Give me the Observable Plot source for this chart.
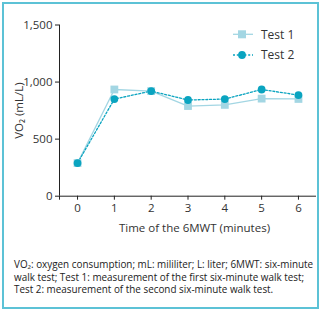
<!DOCTYPE html>
<html>
<head>
<meta charset="utf-8">
<script src="https://cdn.jsdelivr.net/npm/d3@7"></script>
<script src="https://cdn.jsdelivr.net/npm/@observablehq/plot@0.6"></script>
<style>
  html, body { margin: 0; padding: 0; background: #fff; }
  #wrap { position: relative; width: 322px; height: 309px; overflow: hidden; font-family: "Open Sans", sans-serif; color: #333; }
  #frame { position: absolute; left: 2px; top: 2px; width: 313px; height: 303px; border: 2px solid #5cc2d6; box-sizing: content-box; }
  #chart { position: absolute; left: 0; top: 0; }
  #legend { position: absolute; left: 228px; top: 24px; }
  #caption { position: absolute; left: 14px; top: 258px; font-size: 9.9px; line-height: 12.5px; white-space: nowrap; color: #222; }
  #caption div { height: 12.5px; }
</style>
</head>
<body>
<div id="wrap">
  <div id="frame"></div>
  <div id="chart"></div>
  <div id="legend"></div>
  <div id="caption"><div>VO₂: oxygen consumption; mL: mililiter; L: liter; 6MWT: six-minute</div><div>walk test; Test 1: measurement of the first six-minute walk test;</div><div>Test 2: measurement of the second six-minute walk test.</div></div>
</div>
<script>
const minutes = [0, 1, 2, 3, 4, 5, 6];
const test1 = [290, 935, 921, 790, 800, 855, 852];
const test2 = [290, 851, 921, 843, 851, 935, 886];
const seriesNames = ["Test 1", "Test 2"];
const yTicks = [0, 500, 1000, 1500];
const xLabel = "Time of the 6MWT (minutes)";
const yLabel = "VO₂ (mL/L)";

const c1 = "#a3d6e3";
const c2 = "#0aa4c0";

const d1 = minutes.map((m, i) => ({x: m, y: test1[i]}));
const d2 = minutes.map((m, i) => ({x: m, y: test2[i]}));

const xDomain = [-0.49, 6.49];

const chart = Plot.plot({
  width: 322,
  height: 248,
  marginLeft: 59,
  marginRight: 6,
  marginTop: 24.5,
  marginBottom: 52.3,
  style: {fontFamily: "'Open Sans', sans-serif", fontSize: "11.5px", color: "#333", background: "transparent"},
  x: {domain: xDomain},
  y: {domain: [0, 1500]},
  marks: [
    Plot.ruleY([0], {stroke: "#222", strokeWidth: 1}),
    Plot.ruleX([xDomain[0]], {y1: 0, y2: 1500, stroke: "#222", strokeWidth: 1}),
    Plot.ruleX([xDomain[0]], {y1: 0, y2: 0, insetBottom: -4, stroke: "#222", strokeWidth: 1}),
    Plot.axisX({ticks: minutes, tickSize: 4, tickPadding: 4, tickFormat: d => d, label: null, stroke: "#222"}),
    Plot.axisY({ticks: yTicks, tickSize: 4, tickPadding: 3, tickFormat: d3.format(","), label: yLabel, labelAnchor: "center", labelOffset: 45, labelArrow: "none", stroke: "#222"}),
    Plot.text([xLabel], {frameAnchor: "bottom", dy: 36, dx: 6.5, fill: "#333"}),
    Plot.line(d1, {x: "x", y: "y", stroke: c1, strokeWidth: 1.3}),
    Plot.line(d2, {x: "x", y: "y", stroke: c2, strokeWidth: 1.3, strokeDasharray: "2,1.8"}),
    Plot.dot(d1, {x: "x", y: "y", symbol: "square", r: 4.4, fill: c1}),
    Plot.dot(d2, {x: "x", y: "y", symbol: "circle", r: 3.9, fill: c2})
  ]
});
document.getElementById("chart").appendChild(chart);

// legend
const lg = d3.select("#legend").append("svg").attr("width", 90).attr("height", 45)
  .style("font-family", "'Open Sans', sans-serif").style("font-size", "12px");
const items = [
  {name: seriesNames[0], color: c1, dash: null, sym: "square"},
  {name: seriesNames[1], color: c2, dash: "2,1.8", sym: "circle"}
];
items.forEach((it, i) => {
  const y = 10.3 + i * 20.7;
  const g = lg.append("g").attr("transform", `translate(0,${y})`);
  g.append("line").attr("x1", 5).attr("x2", 25).attr("y1", 0).attr("y2", 0)
    .attr("stroke", it.color).attr("stroke-width", 1.3).attr("stroke-dasharray", it.dash);
  if (it.sym === "square") g.append("rect").attr("x", 14 - 4).attr("y", -4).attr("width", 8).attr("height", 8).attr("fill", it.color);
  else g.append("circle").attr("cx", 14).attr("cy", 0).attr("r", 3.9).attr("fill", it.color);
  g.append("text").attr("x", 33).attr("y", 0).attr("dy", "0.35em").attr("fill", "#333").text(it.name);
});
</script>
</body>
</html>
